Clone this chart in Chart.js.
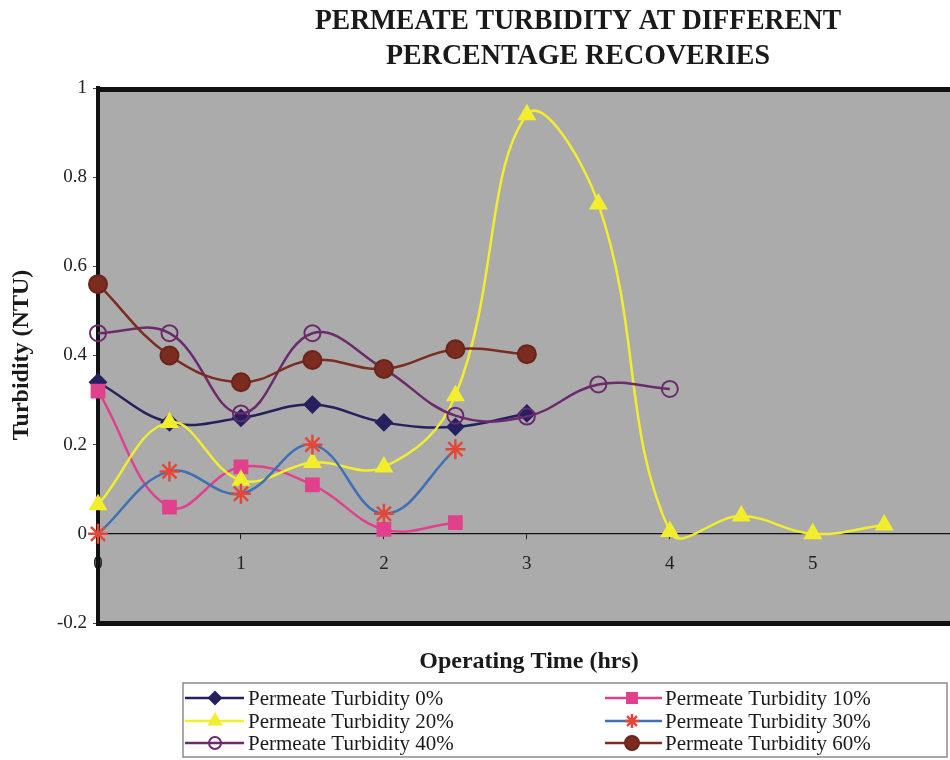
<!DOCTYPE html>
<html>
<head>
<meta charset="utf-8">
<script src="https://cdn.jsdelivr.net/npm/chart.js@4/dist/chart.umd.min.js"></script>
<style>
html,body{margin:0;padding:0;background:#fff;}
#wrap{width:950px;height:760px;position:relative;}
</style>
</head>
<body>
<div id="wrap"><canvas id="c" width="950" height="760"></canvas></div>
<script>
const titleLines = ["PERMEATE TURBIDITY AT DIFFERENT", "PERCENTAGE RECOVERIES"];
const xTitle = "Operating Time (hrs)";
const yTitle = "Turbidity (NTU)";
const hours = [0, 0.5, 1, 1.5, 2, 2.5, 3, 3.5, 4, 4.5, 5, 5.5];
const xTickValues = [0, 1, 2, 3, 4, 5];
const seriesNames = ["Permeate Turbidity 0%", "Permeate Turbidity 10%", "Permeate Turbidity 20%",
                     "Permeate Turbidity 30%", "Permeate Turbidity 40%", "Permeate Turbidity 60%"];
const turb0  = [0.34, 0.25, 0.26, 0.29, 0.25, 0.24, 0.27];
const turb10 = [0.32, 0.06, 0.15, 0.11, 0.01, 0.025];
const turb20 = [0.065, 0.25, 0.12, 0.16, 0.15, 0.31, 0.94, 0.74, 0.005, 0.04, 0.0, 0.02];
const turb30 = [0.0, 0.14, 0.09, 0.20, 0.045, 0.19];
const turb40 = [0.45, 0.45, 0.27, 0.45, 0.37, 0.265, 0.263, 0.335, 0.325];
const turb60 = [0.56, 0.40, 0.34, 0.39, 0.37, 0.414, 0.403];

const styles = [
  {line:'#25205e', fill:'#25205e', stroke:'#25205e', ps:'rectRot', r:8, lr:6},
  {line:'#e0408c', fill:'#e0408c', stroke:'#e0408c', ps:'rect', r:9, lr:7},
  {line:'#f2ee2e', fill:'#f2ee2e', stroke:'#f2ee2e', ps:'triangle', r:9, lr:7},
  {line:'#3f70b4', fill:'#e2483a', stroke:'#e2483a', ps:'star', r:10, lr:7},
  {line:'#6a2a6c', fill:'rgba(0,0,0,0)', stroke:'#6a2a6c', ps:'circle', r:8, lr:6},
  {line:'#7b2b1f', fill:'#7b2b1f', stroke:'#6a2419', ps:'circle', r:9, lr:7}
];
const allVals = [turb0, turb10, turb20, turb30, turb40, turb60];

const datasets = allVals.map((vals, i) => ({
  label: seriesNames[i],
  data: vals.map((v, k) => ({x: hours[k], y: v})),
  borderColor: styles[i].line,
  borderWidth: 2.5,
  pointStyle: styles[i].ps,
  pointRadius: styles[i].r,
  pointBackgroundColor: styles[i].fill,
  pointBorderColor: styles[i].stroke,
  pointBorderWidth: styles[i].ps === 'star' ? 2.5 : 2,
  tension: 0.4,
  fill: false,
  clip: false,
  order: 5 - i
}));

const decor = {
  id: 'decor',
  beforeDraw(chart) {
    const {ctx, chartArea: a} = chart;
    ctx.save();
    ctx.fillStyle = '#ababab';
    ctx.fillRect(a.left, a.top, a.right - a.left, a.bottom - a.top);
    ctx.restore();
  },
  afterDraw(chart) {
    const {ctx, chartArea: a} = chart;
    ctx.save();
    ctx.fillStyle = '#111';
    ctx.fillRect(a.left - 2, a.top - 1, a.right - a.left + 2, 5);
    ctx.fillRect(a.left - 2, a.bottom - 2, a.right - a.left + 2, 5);
    ctx.fillStyle = '#1a1a1a';
    ctx.textAlign = 'center';
    ctx.textBaseline = 'middle';
    ctx.font = 'bold 30px "Liberation Serif", serif';
    ctx.fillText(titleLines[0], 578, 21, 526);
    ctx.fillText(titleLines[1], 578, 56, 384);
    ctx.font = 'bold 24px "Liberation Serif", serif';
    ctx.fillText(xTitle, 529, 662, 254);
    ctx.save();
    ctx.translate(22, 355);
    ctx.rotate(-Math.PI / 2);
    ctx.fillText(yTitle, 0, 0, 202);
    ctx.restore();
    ctx.fillStyle = '#fff';
    ctx.strokeStyle = '#8a8a8a';
    ctx.lineWidth = 1.5;
    ctx.fillRect(183, 683, 764, 74);
    ctx.strokeRect(183, 683, 764, 74);
    const rowsY = [698, 721, 743];
    const cols = [{l0:185, l1:244, m:215, tx:248}, {l0:605, l1:662, m:632, tx:665}];
    chart.data.datasets.forEach((ds, i) => {
      const c = cols[i % 2], y = rowsY[Math.floor(i / 2)];
      ctx.strokeStyle = ds.borderColor;
      ctx.lineWidth = 2.5;
      ctx.beginPath(); ctx.moveTo(c.l0, y); ctx.lineTo(c.l1, y); ctx.stroke();
      ctx.fillStyle = ds.pointBackgroundColor;
      ctx.strokeStyle = ds.pointBorderColor;
      ctx.lineWidth = ds.pointBorderWidth;
      Chart.helpers.drawPoint(ctx, {pointStyle: ds.pointStyle, radius: styles[i].lr, rotation: 0, borderWidth: ds.pointBorderWidth}, c.m, y);
      ctx.fillStyle = '#1a1a1a';
      ctx.textAlign = 'left';
      ctx.font = '21px "Liberation Serif", serif';
      ctx.fillText(ds.label, c.tx, y + 1);
    });
    ctx.restore();
  }
};

new Chart(document.getElementById('c'), {
  type: 'line',
  data: {datasets},
  options: {
    responsive: false,
    animation: false,
    devicePixelRatio: 1,
    layout: {autoPadding: false, padding: {top: 88, bottom: 137, left: 0, right: 0}},
    plugins: {legend: {display: false}, title: {display: false}, tooltip: {enabled: false}},
    scales: {
      x: {
        type: 'linear',
        position: {y: 0},
        min: 0,
        max: 5.96,
        afterBuildTicks: (s) => { s.ticks = xTickValues.map(v => ({value: v})); },
        afterFit: (s) => { s.paddingLeft = 0; s.paddingRight = 0; },
        grid: {display: true, drawOnChartArea: false, drawTicks: true, tickLength: 5, color: '#222'},
        border: {display: true, color: '#111', width: 1.2},
        ticks: {color: '#222', font: {family: '"Liberation Serif", serif', size: 19}, padding: 14, maxRotation: 0, autoSkip: false}
      },
      y: {
        type: 'linear',
        position: 'left',
        min: -0.2,
        max: 1,
        ticks: {
          stepSize: 0.2, color: '#222', font: {family: '"Liberation Serif", serif', size: 19}, padding: 6,
          callback: (v) => { const r = Math.round(v * 10) / 10; return Math.abs(r) < 1e-9 ? '0' : String(r); }
        },
        afterFit: (s) => { s.width = 98; },
        grid: {display: true, drawOnChartArea: false, drawTicks: true, tickLength: 5, color: '#444'},
        border: {display: true, color: '#111', width: 4}
      }
    }
  },
  plugins: [decor]
});
</script>
</body>
</html>
